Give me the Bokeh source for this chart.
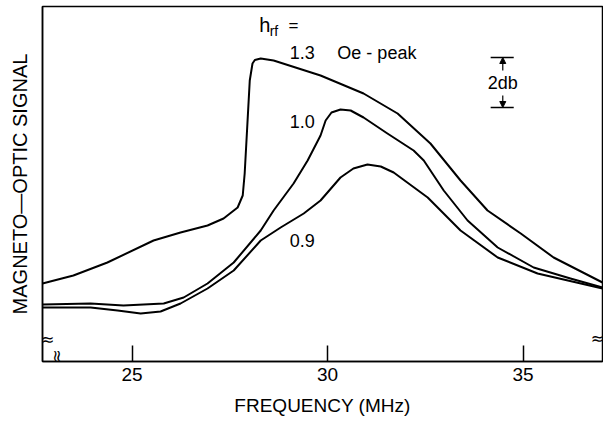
import math
from bokeh.plotting import figure
from bokeh.models import Label, Arrow, NormalHead, FixedTicker, Range1d
from bokeh.embed import file_html
from bokeh.resources import INLINE

# Frequency (MHz) and magneto-optic signal (dB, relative)
freq_13 = [22.71, 23.50, 24.37, 25.55, 26.24, 26.93, 27.34, 27.70, 27.83, 27.88, 27.95,
           28.01, 28.08, 28.14, 28.29, 28.62, 29.82, 30.92, 31.79, 32.63, 33.40, 34.09,
           34.94, 35.78, 37.03]
sig_13 = [3.12, 3.44, 3.96, 4.84, 5.16, 5.44, 5.72, 6.16, 6.64, 7.52, 9.52,
          11.24, 11.92, 12.06, 12.12, 12.04, 11.44, 10.72, 9.92, 8.72, 7.24, 6.04,
          5.12, 4.16, 3.16]

freq_10 = [22.71, 23.94, 24.78, 25.81, 26.32, 26.93, 27.60, 28.29, 28.62, 29.13, 29.49,
           29.82, 29.95, 30.10, 30.33, 30.59, 30.66, 30.92, 31.53, 32.20, 32.46, 32.97,
           33.58, 34.35, 35.27, 36.21, 37.03]
sig_10 = [2.28, 2.32, 2.24, 2.32, 2.56, 3.12, 3.96, 5.24, 6.04, 7.12, 8.04,
          9.04, 9.64, 9.96, 10.08, 10.04, 9.98, 9.76, 9.12, 8.44, 8.04, 6.84,
          5.64, 4.56, 3.76, 3.32, 2.96]

freq_09 = [22.71, 23.94, 24.63, 25.22, 25.73, 26.24, 26.93, 27.60, 28.29, 28.80, 29.39,
           29.82, 30.33, 30.66, 31.02, 31.36, 31.69, 32.56, 33.40, 34.35, 35.37, 37.03]
sig_09 = [2.16, 2.16, 2.04, 1.92, 2.00, 2.32, 2.92, 3.64, 4.84, 5.36, 5.92,
          6.44, 7.36, 7.72, 7.88, 7.80, 7.56, 6.56, 5.24, 4.16, 3.52, 2.92]

x_ticks = [25, 30, 35]
curve_labels = ["1.3", "1.0", "0.9"]
FONT = "Liberation Sans"

p = figure(width=603, height=423, x_range=Range1d(22.71, 37.03), y_range=Range1d(0, 14.2),
           output_backend="svg", toolbar_location=None,
           min_border_left=42, min_border_right=1, min_border_top=6, min_border_bottom=62)
p.grid.visible = False
p.outline_line_color = "black"
p.outline_line_width = 1.5
p.background_fill_color = "white"
p.border_fill_color = "white"

xa = p.xaxis[0]
xa.ticker = FixedTicker(ticks=x_ticks, minor_ticks=[])
xa.major_tick_in = 16
xa.major_tick_out = 0
xa.major_tick_line_width = 1.5
xa.major_tick_line_color = "black"
xa.axis_line_width = 1.5
xa.axis_line_color = "black"
xa.minor_tick_line_color = None
xa.major_label_text_font = FONT
xa.major_label_text_font_size = "19px"
xa.major_label_text_color = "black"
xa.major_label_standoff = 6
xa.axis_label = "FREQUENCY (MHz)"
xa.axis_label_text_font = FONT
xa.axis_label_text_font_size = "19px"
xa.axis_label_text_font_style = "normal"
xa.axis_label_text_color = "black"
xa.axis_label_standoff = 11

ya = p.yaxis[0]
ya.ticker = FixedTicker(ticks=[], minor_ticks=[])
ya.major_tick_line_color = None
ya.minor_tick_line_color = None
ya.axis_line_width = 1.5
ya.axis_line_color = "black"
ya.major_label_text_font_size = "0px"
ya.axis_label = "MAGNETO—OPTIC SIGNAL"
ya.axis_label_text_font = FONT
ya.axis_label_text_font_size = "20px"
ya.axis_label_text_font_style = "normal"
ya.axis_label_text_color = "black"
ya.axis_label_standoff = 12

for fx, sy in [(freq_13, sig_13), (freq_10, sig_10), (freq_09, sig_09)]:
    p.line(fx, sy, line_color="black", line_width=2, line_join="round")

def lab(x, y, text, size="18px", align="center", baseline="middle", font=FONT, **kw):
    p.add_layout(Label(x=x, y=y, text=text, text_font=font, text_font_size=size,
                       text_align=align, text_baseline=baseline, text_color="black", **kw))

# curve annotations
lab(28.25, 13.48, "h", size="20px", align="left")
lab(28.52, 13.22, "rf", size="14px", align="left")
lab(29.00, 13.45, "=", size="17px", align="left")
lab(29.35, 12.36, curve_labels[0])
lab(30.25, 12.36, "Oe - peak", align="left")
lab(29.35, 9.60, curve_labels[1])
lab(29.35, 4.84, curve_labels[2])

# 2 dB scale bar
bx0, bx1, bxm = 34.17, 34.76, 34.48
p.segment(x0=[bx0, bx0], y0=[12.16, 10.16], x1=[bx1, bx1], y1=[12.16, 10.16],
          line_color="black", line_width=1.5)
p.add_layout(Arrow(x_start=bxm, y_start=11.64, x_end=bxm, y_end=12.16,
                   line_width=1.2, end=NormalHead(size=6, fill_color="black", line_color="black")))
p.add_layout(Arrow(x_start=bxm, y_start=10.64, x_end=bxm, y_end=10.16,
                   line_width=1.2, end=NormalHead(size=6, fill_color="black", line_color="black")))
lab(bxm, 11.16, "2db", size="18px")

# axis break marks (kept just inside the frame so they are not clipped)
lab(22.84, 0.88, "≈", size="16px", font="DejaVu Sans")
lab(36.90, 0.92, "≈", size="16px", font="DejaVu Sans")
lab(23.07, 0.22, "≈", size="16px", font="DejaVu Sans", angle=math.pi / 2)

open("out.html", "w").write(file_html(p, INLINE))
